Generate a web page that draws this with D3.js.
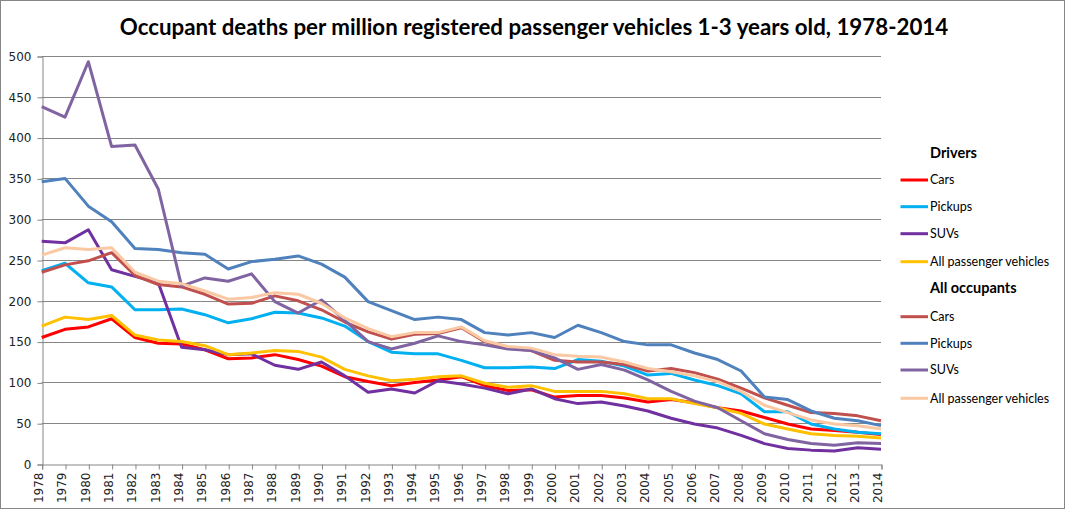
<!DOCTYPE html>
<html><head><meta charset="utf-8">
<script src="https://cdn.jsdelivr.net/npm/d3@7"></script>
<style>body{margin:0;background:#fff}svg{display:block}</style>
</head><body>
<svg id="c" width="1066" height="510"></svg>
<script>
const years = d3.range(1978, 2015);
const yTicks = [0,50,100,150,200,250,300,350,400,450,500];
const titleText = "Occupant deaths per million registered passenger vehicles 1-3 years old, 1978-2014";

const driversCars = [155,165,168,178,155,148,147,140,129,130,134,128,120,107,101,96,100,103,107,96,90,91,82,84,84,81,76,79,75,69,65,57,49,43,41,39,36];
const driversPickups = [237,246,222,217,189,189,190,183,173,178,186,185,179,169,150,137,135,135,127,118,118,119,117,128,126,120,109,111,103,96,86,64,64,49,43,39,37];
const driversSUVs = [273,271,287,238,230,222,143,140,134,135,121,116,125,108,88,92,87,102,98,93,86,92,80,74,76,71,65,56,49,44,35,25,19,17,16,20,18];
const driversAll = [169,180,177,182,158,152,150,145,134,136,139,138,131,116,108,102,104,107,108,99,94,96,89,89,89,86,80,80,74,69,62,49,43,37,35,34,32];
const occCars = [235,244,249,259,231,220,217,208,196,197,206,200,189,174,162,153,159,160,167,150,142,139,127,125,125,122,114,117,112,104,93,81,72,63,62,59,53];
const occPickups = [346,350,316,297,264,263,259,257,239,248,251,255,245,229,199,188,177,180,177,161,158,161,155,170,161,150,146,146,136,128,114,82,79,65,56,53,47];
const occSUVs = [438,425,493,389,391,337,218,228,224,233,199,185,201,176,150,141,148,157,150,146,141,139,130,116,122,115,103,89,77,69,53,37,30,25,23,26,25];
const occAll = [256,265,263,265,235,224,221,212,202,204,210,208,197,179,166,156,161,161,168,151,144,142,134,132,131,125,117,113,108,101,89,72,63,54,49,47,43];

const seriesNames = ["Cars","Pickups","SUVs","All passenger vehicles","Cars","Pickups","SUVs","All passenger vehicles"];
const seriesValues = [driversCars, driversPickups, driversSUVs, driversAll, occCars, occPickups, occSUVs, occAll];
const seriesColors = ["#FF0000","#00B0F0","#7030A0","#FFC000","#C0504D","#4F81BD","#8064A2","#FAC8A2"];

const svg = d3.select("#c");
const W = 1066, H = 510;
svg.append("rect").attr("x",0.5).attr("y",0.5).attr("width",W-2).attr("height",H-2)
  .attr("fill","#fff").attr("stroke","#868686");

const x = d3.scalePoint().domain(years).range([41.7, 881]);
const y = d3.scaleLinear().domain([0,500]).range([464, 56]);

svg.append("text").attr("x", 534).attr("y", 35).attr("text-anchor","middle")
  .attr("font-family","Lato, 'Open Sans', sans-serif").attr("font-weight","bold")
  .attr("font-size", 22.3).attr("fill","#000").text(titleText);

// gridlines
svg.append("g").selectAll("line").data(yTicks.filter(d=>d>0)).join("line")
  .attr("x1", x(1978)).attr("x2", x(2014))
  .attr("y1", d=>Math.round(y(d))+0.5).attr("y2", d=>Math.round(y(d))+0.5)
  .attr("stroke","#868686").attr("stroke-width",1);

// y axis
const yAxis = d3.axisLeft(y).tickValues(yTicks).tickSize(5).tickPadding(6);
const gy = svg.append("g").attr("transform",`translate(${Math.round(x(1978))+0.5},0.5)`).call(yAxis);
gy.select(".domain").attr("stroke","#868686");
gy.selectAll(".tick line").attr("stroke","#868686");
gy.selectAll("text").attr("font-family","'DejaVu Sans', Verdana, sans-serif").attr("font-size",12).attr("fill","#222");

// x axis
const xAxis = d3.axisBottom(x).tickSize(5).tickPadding(4);
const gx = svg.append("g").attr("transform",`translate(0.5,${Math.round(y(0))+0.5})`).call(xAxis);
gx.select(".domain").attr("stroke","#868686");
gx.selectAll(".tick line").attr("stroke","#868686");
gx.selectAll("text").attr("font-family","'DejaVu Sans', Verdana, sans-serif").attr("font-size",12).attr("fill","#222")
  .attr("transform","rotate(-90)").attr("text-anchor","end").attr("dx","-0.5em").attr("dy","-0.3em").attr("y",0).attr("x",-2)
  .style("dominant-baseline","central");

// lines
const line = d3.line().x((d,i)=>x(years[i])).y(d=>y(d));
svg.append("g").selectAll("path").data(seriesValues).join("path")
  .attr("d", d=>line(d)).attr("fill","none")
  .attr("stroke",(d,i)=>seriesColors[i]).attr("stroke-width",3)
  .attr("stroke-linejoin","round");

// legend
const legendRowsY = [180, 206.7, 233.7, 261.7, 316.7, 343.3, 370, 398.3];
const legendHeadY = [152.7, 288.3];
const lg = svg.append("g");
["Drivers","All occupants"].forEach((h,k)=>{
  lg.append("text").attr("x",930).attr("y",legendHeadY[k]).attr("dy","0.35em")
    .attr("font-family","Lato, 'Open Sans', sans-serif").attr("font-weight","bold").attr("font-size",14.5)
    .attr("fill","#000").text(h);
});
seriesNames.forEach((n,i)=>{
  lg.append("line").attr("x1",900.5).attr("x2",928).attr("y1",legendRowsY[i]).attr("y2",legendRowsY[i])
    .attr("stroke",seriesColors[i]).attr("stroke-width",3);
  lg.append("text").attr("x",930).attr("y",legendRowsY[i]).attr("dy","0.35em")
    .attr("font-family","Lato, 'Open Sans', sans-serif").attr("font-size",12.5)
    .attr("fill","#000").text(n);
});
</script>
</body></html>
